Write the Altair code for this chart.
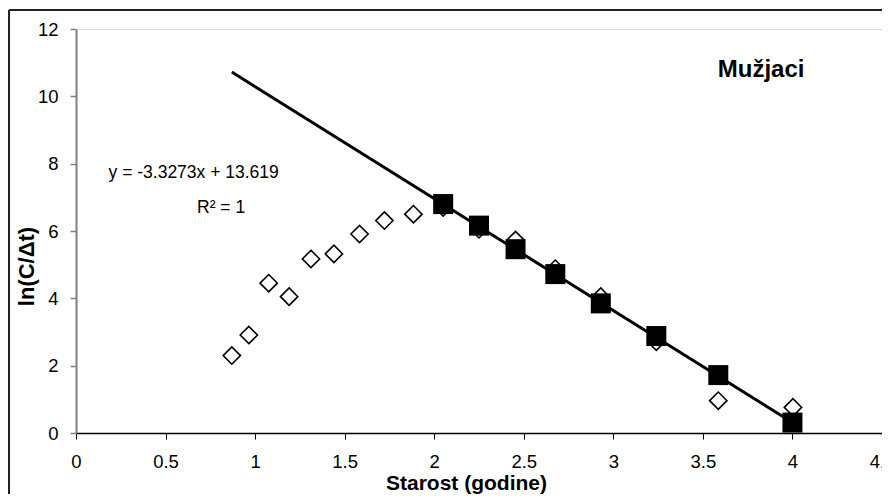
import altair as alt
import pandas as pd

# hollow diamonds: all observations
age_all = [0.87, 0.965, 1.076, 1.19, 1.312, 1.44, 1.583, 1.722, 1.884, 2.05,
           2.25, 2.454, 2.676, 2.93, 3.24, 3.586, 4.003]
ln_all = [2.30, 2.91, 4.45, 4.05, 5.17, 5.32, 5.91, 6.31, 6.50, 6.70,
          6.05, 5.73, 4.88, 4.05, 2.71, 0.96, 0.76]

# filled squares: points used for regression
age_fit = [2.05, 2.25, 2.454, 2.676, 2.93, 3.24, 3.586, 4.0]
ln_fit = [6.80, 6.16, 5.46, 4.72, 3.85, 2.88, 1.72, 0.31]

# trend line y = -3.3273x + 13.619
trend_x = [0.87, 4.0]
trend_y = [10.72, 0.31]

x_ticks = [0, 0.5, 1, 1.5, 2, 2.5, 3, 3.5, 4, 4.5]
y_ticks = [0, 2, 4, 6, 8, 10, 12]

FONT = "Liberation Sans"

df_all = pd.DataFrame({"x": age_all, "y": ln_all})
df_fit = pd.DataFrame({"x": age_fit, "y": ln_fit})
df_trend = pd.DataFrame({"x": trend_x, "y": trend_y})
one = pd.DataFrame({"a": [0]})

xscale = alt.Scale(domain=[0, 4.5], nice=False, zero=False)
yscale = alt.Scale(domain=[0, 12], nice=False, zero=False)

xaxis = alt.Axis(
    title="Starost (godine)", values=x_ticks, labelExpr="'' + datum.value",
    grid=False, domainColor="#000000", domainWidth=1.5, tickColor="#000000",
    tickSize=6, tickWidth=1, labelFont=FONT, labelFontSize=18.5, labelColor="#000000",
    labelBaseline="middle", labelPadding=22, labelFlush=False, labelOverlap=False,
    titleFont=FONT, titleFontSize=21, titleFontWeight="bold", titleColor="#000000",
    titleX=390, titleY=56, titleAlign="center", titleBaseline="alphabetic",
)
yaxis = alt.Axis(
    title="ln(C/Δt)", values=y_ticks, grid=False, domainColor="#808080",
    domainWidth=2, tickColor="#808080", tickSize=6, tickWidth=1.5,
    labelFont=FONT, labelFontSize=18.5, labelColor="#000000", labelPadding=12,
    labelBaseline="middle", labelFlush=False, labelOverlap=False,
    titleFont=FONT, titleFontSize=22, titleFontWeight="bold", titleColor="#000000",
    titleX=-50, titleY=237, titleAlign="center", titleBaseline="middle", titleAngle=270,
)

diamonds = alt.Chart(df_all).mark_point(
    shape="diamond", filled=False, color="#000000", strokeWidth=1.6, size=300, opacity=1
).encode(x=alt.X("x:Q", scale=xscale, axis=xaxis), y=alt.Y("y:Q", scale=yscale, axis=yaxis))

trend = alt.Chart(df_trend).mark_line(color="#000000", strokeWidth=3).encode(
    x=alt.X("x:Q", scale=xscale), y=alt.Y("y:Q", scale=yscale))

squares = alt.Chart(df_fit).mark_point(
    shape="square", filled=True, color="#000000", size=400, opacity=1
).encode(x=alt.X("x:Q", scale=xscale), y=alt.Y("y:Q", scale=yscale))

eq = alt.Chart(one).mark_text(
    text="y = -3.3273x + 13.619", font=FONT, fontSize=17.5, color="#000000",
    align="center", baseline="alphabetic"
).encode(x=alt.datum(0.657, scale=xscale), y=alt.datum(7.57, scale=yscale))

r2 = alt.Chart(one).mark_text(
    text="R² = 1", font=FONT, fontSize=17.5, color="#000000",
    align="center", baseline="alphabetic"
).encode(x=alt.datum(0.81, scale=xscale), y=alt.datum(6.53, scale=yscale))

label = alt.Chart(one).mark_text(
    text="Mužjaci", font=FONT, fontSize=24, fontWeight="bold", color="#000000",
    align="center", baseline="alphabetic"
).encode(x=alt.datum(3.825, scale=xscale), y=alt.datum(10.56, scale=yscale))

frame_left = alt.Chart(one).mark_rule(color="#222222", strokeWidth=2).encode(
    x=alt.value(-67), y=alt.value(-19), y2=alt.value(600))
frame_top = alt.Chart(one).mark_rule(color="#222222", strokeWidth=2).encode(
    x=alt.value(-67), x2=alt.value(1000), y=alt.value(-19))

chart = alt.layer(
    frame_left, frame_top, diamonds, trend, squares, eq, r2, label
).properties(
    width=806, height=404,
    autosize=alt.AutoSizeParams(type="none"),
    padding={"left": 68, "top": 21, "right": 0, "bottom": 61},
).configure_view(stroke=None).configure(background="#ffffff")

chart.save("out.html", embed_options={"renderer": "svg", "actions": False})
